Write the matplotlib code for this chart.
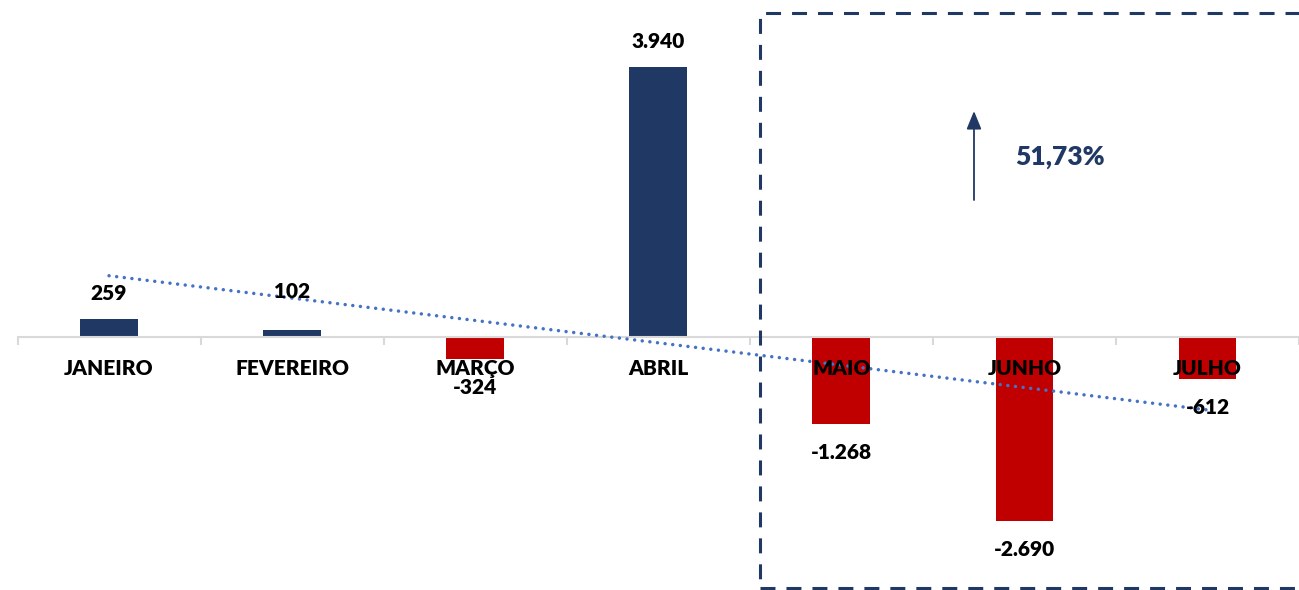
import numpy as np
import matplotlib
matplotlib.use("Agg")
import matplotlib.pyplot as plt
from matplotlib.patches import Rectangle

categories = ["JANEIRO", "FEVEREIRO", "MARÇO", "ABRIL", "MAIO", "JUNHO", "JULHO"]
values = [259, 102, -324, 3940, -1268, -2690, -612]
value_labels = ["259", "102", "-324", "3.940", "-1.268", "-2.690", "-612"]
highlight_text = "51,73%"

NAVY = "#203864"
RED = "#C00000"
TREND = "#4472C4"
FONT = ["Lato", "DejaVu Sans"]
WEIGHT = "heavy"

W, H = 1299, 590
fig = plt.figure(figsize=(W / 100, H / 100), dpi=100)
left_px = 17.5
ax = fig.add_axes([left_px / W, 0, 1 - left_px / W, 1])

x = np.arange(len(categories))
colors = [NAVY if v >= 0 else RED for v in values]
ax.bar(x, values, width=0.315, color=colors, zorder=2)

step = 184.4
ax.set_xlim(-0.5, -0.5 + (W - left_px) / step)
ax.set_ylim(-3693, 4920)

for s in ["top", "right", "left"]:
    ax.spines[s].set_visible(False)
ax.spines["bottom"].set_position(("data", 0))
ax.spines["bottom"].set_color("#D9D9D9")
ax.spines["bottom"].set_linewidth(1.5)
ax.set_yticks([])
ax.set_xticks(np.arange(-0.5, 7, 1.0))
ax.tick_params(axis="x", length=6, width=1.5, color="#D9D9D9", labelbottom=False)

# trend line
coef = np.polyfit(x + 1, values, 1)
trend = np.polyval(coef, x + 1)
ax.plot(x, trend, color=TREND, lw=2.5, linestyle=(0, (0.01, 2.2)),
        dash_capstyle="round", zorder=4)

# category labels
for xi, c in zip(x, categories):
    ax.annotate(c, (xi, 0), xytext=(0, -22.5), textcoords="offset points",
                ha="center", va="center", fontsize=15, fontweight=WEIGHT,
                family=FONT, color="black", zorder=5)

# value labels
for xi, v, lab in zip(x, values, value_labels):
    off = 18.5 if v >= 0 else -20.5
    if lab == "102":
        off = 28
    ax.annotate(lab, (xi, v), xytext=(0, off), textcoords="offset points",
                ha="center", va="center", fontsize=15, fontweight=WEIGHT,
                family=FONT, color="black", zorder=5)

# dashed highlight box
box = Rectangle((760 / W, 2 / H), (1320 - 760) / W, (577 - 2) / H,
                transform=fig.transFigure, fill=False, edgecolor=NAVY,
                lw=2.2, linestyle=(0, (4.9, 3.6)))
fig.add_artist(box)

# arrow and percentage
ax.annotate("", xy=(974, H - 111), xycoords="figure pixels",
            xytext=(974, H - 200), textcoords="figure pixels",
            arrowprops=dict(arrowstyle="-|>,head_length=1.1,head_width=0.45",
                            color=NAVY, lw=1.3, shrinkA=0, shrinkB=0))
fig.text(1015 / W, (H - 157) / H, highlight_text, ha="left", va="center",
         fontsize=19, fontweight=WEIGHT, family=FONT, color=NAVY)

fig.savefig("out.png", dpi=100)
